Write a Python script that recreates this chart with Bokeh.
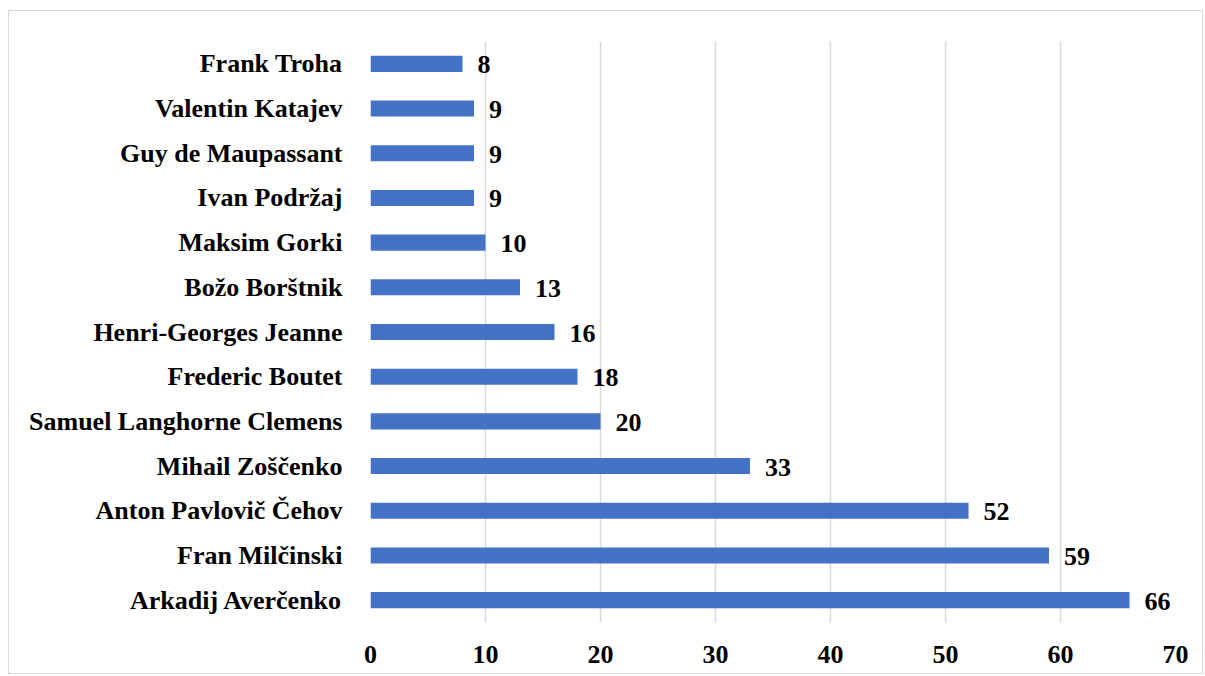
from bokeh.plotting import figure
from bokeh.models import ColumnDataSource, FactorRange, Range1d, LabelSet, FixedTicker
from bokeh.embed import file_html
from bokeh.resources import INLINE

# Data (top to bottom as in the picture)
authors = ["Frank Troha", "Valentin Katajev", "Guy de Maupassant", "Ivan Podržaj",
           "Maksim Gorki", "Božo Borštnik", "Henri-Georges Jeanne", "Frederic Boutet",
           "Samuel Langhorne Clemens", "Mihail Zoščenko", "Anton Pavlovič Čehov",
           "Fran Milčinski", "Arkadij Averčenko"]
counts = [8, 9, 9, 9, 10, 13, 16, 18, 20, 33, 52, 59, 66]
x_ticks = [0, 10, 20, 30, 40, 50, 60, 70]

FONT = "Liberation Serif"

src = ColumnDataSource(dict(author=authors, count=counts,
                            label=[str(c) for c in counts]))

p = figure(width=1195, height=664,
           y_range=FactorRange(factors=list(reversed(authors))),
           x_range=Range1d(0, 70),
           output_backend="svg", toolbar_location=None,
           min_border_left=361, min_border_right=29,
           min_border_top=30, min_border_bottom=53)
p.margin = (10, 0, 0, 8)
p.styles = {"border": "1px solid #d9d9d9"}

p.hbar(y="author", right="count", left=0, height=0.36, source=src,
       fill_color="#4472C4", line_color=None)

labels = LabelSet(x="count", y="author", text="label", source=src,
                  x_offset=15, y_offset=-1, text_baseline="middle",
                  text_font=FONT, text_font_style="bold",
                  text_font_size="26px", text_color="black")
p.add_layout(labels)

p.outline_line_color = None
p.background_fill_color = "white"
p.border_fill_color = "white"

p.xgrid.grid_line_color = "#d9d9d9"
p.xgrid.grid_line_width = 1.5
p.ygrid.grid_line_color = None
p.xaxis.ticker = FixedTicker(ticks=x_ticks)

for ax in (p.xaxis[0], p.yaxis[0]):
    ax.axis_line_color = None
    ax.major_tick_line_color = None
    ax.minor_tick_line_color = None
    ax.major_label_text_font = FONT
    ax.major_label_text_font_style = "bold"
    ax.major_label_text_font_size = "26px"
    ax.major_label_text_color = "black"

p.xaxis.major_label_standoff = 17
p.yaxis.major_label_standoff = 22

open("out.html", "w").write(file_html(p, INLINE))
